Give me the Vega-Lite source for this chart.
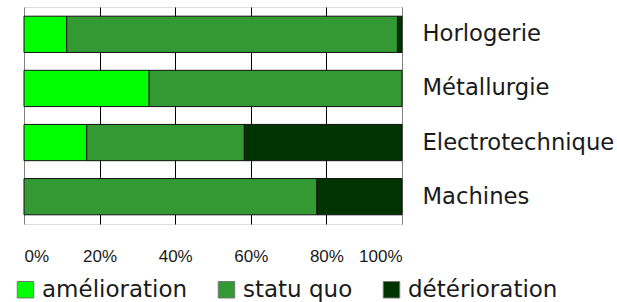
{
  "$schema": "https://vega.github.io/schema/vega-lite/v6.json",
  "autosize": {"type": "none"},
  "padding": {"left": 24, "top": 7, "right": 215, "bottom": 78},
  "width": 378,
  "height": 217,
  "background": "white",
  "data": {
    "values": [
      {"secteur": "Horlogerie", "evolution": "amélioration", "part": 11.3},
      {"secteur": "Horlogerie", "evolution": "statu quo", "part": 87.5},
      {"secteur": "Horlogerie", "evolution": "détérioration", "part": 1.2},
      {"secteur": "Métallurgie", "evolution": "amélioration", "part": 33.1},
      {"secteur": "Métallurgie", "evolution": "statu quo", "part": 66.9},
      {"secteur": "Electrotechnique", "evolution": "amélioration", "part": 16.6},
      {"secteur": "Electrotechnique", "evolution": "statu quo", "part": 41.7},
      {"secteur": "Electrotechnique", "evolution": "détérioration", "part": 41.7},
      {"secteur": "Machines", "evolution": "statu quo", "part": 77.5},
      {"secteur": "Machines", "evolution": "détérioration", "part": 22.5}
    ]
  },
  "transform": [
    {"calculate": "indexof(['amélioration', 'statu quo', 'détérioration'], datum.evolution)", "as": "rang"}
  ],
  "mark": {"type": "bar", "stroke": "#111", "strokeWidth": 1},
  "encoding": {
    "y": {
      "field": "secteur",
      "type": "nominal",
      "sort": ["Horlogerie", "Métallurgie", "Electrotechnique", "Machines"],
      "scale": {"paddingInner": 0.33, "paddingOuter": 0.17},
      "axis": {
        "orient": "right",
        "title": null,
        "ticks": false,
        "domain": false,
        "labelPadding": 20,
        "labelFont": "DejaVu Sans",
        "labelFontSize": 22.7,
        "labelColor": "#1a1a1a",
        "labelAlign": "left",
        "labelLimit": 300
      }
    },
    "x": {
      "field": "part",
      "type": "quantitative",
      "stack": "normalize",
      "scale": {"domain": [0, 1], "nice": false},
      "axis": {
        "title": null,
        "values": [0, 0.2, 0.4, 0.6, 0.8, 1],
        "format": ".0%",
        "domain": false,
        "ticks": false,
        "grid": true,
        "gridColor": {"condition": {"test": "datum.value === 0 || datum.value === 1", "value": "#808080"}, "value": "#000000"},
        "gridWidth": 1,
        "gridOpacity": 1,
        "labelPadding": 24,
        "labelFont": "Liberation Sans",
        "labelFontSize": 17,
        "labelColor": "#1a1a1a"
      }
    },
    "order": {"field": "rang", "type": "quantitative"},
    "color": {
      "field": "evolution",
      "type": "nominal",
      "sort": ["amélioration", "statu quo", "détérioration"],
      "scale": {
        "domain": ["amélioration", "statu quo", "détérioration"],
        "range": ["#00ff00", "#339933", "#003300"]
      },
      "legend": {
        "orient": "none",
        "direction": "horizontal",
        "legendX": -10,
        "legendY": 271,
        "title": null,
        "padding": 0,
        "symbolType": "square",
        "symbolSize": 272,
        "symbolStrokeColor": "#777",
        "symbolStrokeWidth": 1,
        "symbolOpacity": 1,
        "labelFont": "DejaVu Sans",
        "labelFontSize": 23,
        "labelColor": "#1a1a1a",
        "labelOffset": 5,
        "columnPadding": 27,
        "labelLimit": 400
      }
    }
  }
}
